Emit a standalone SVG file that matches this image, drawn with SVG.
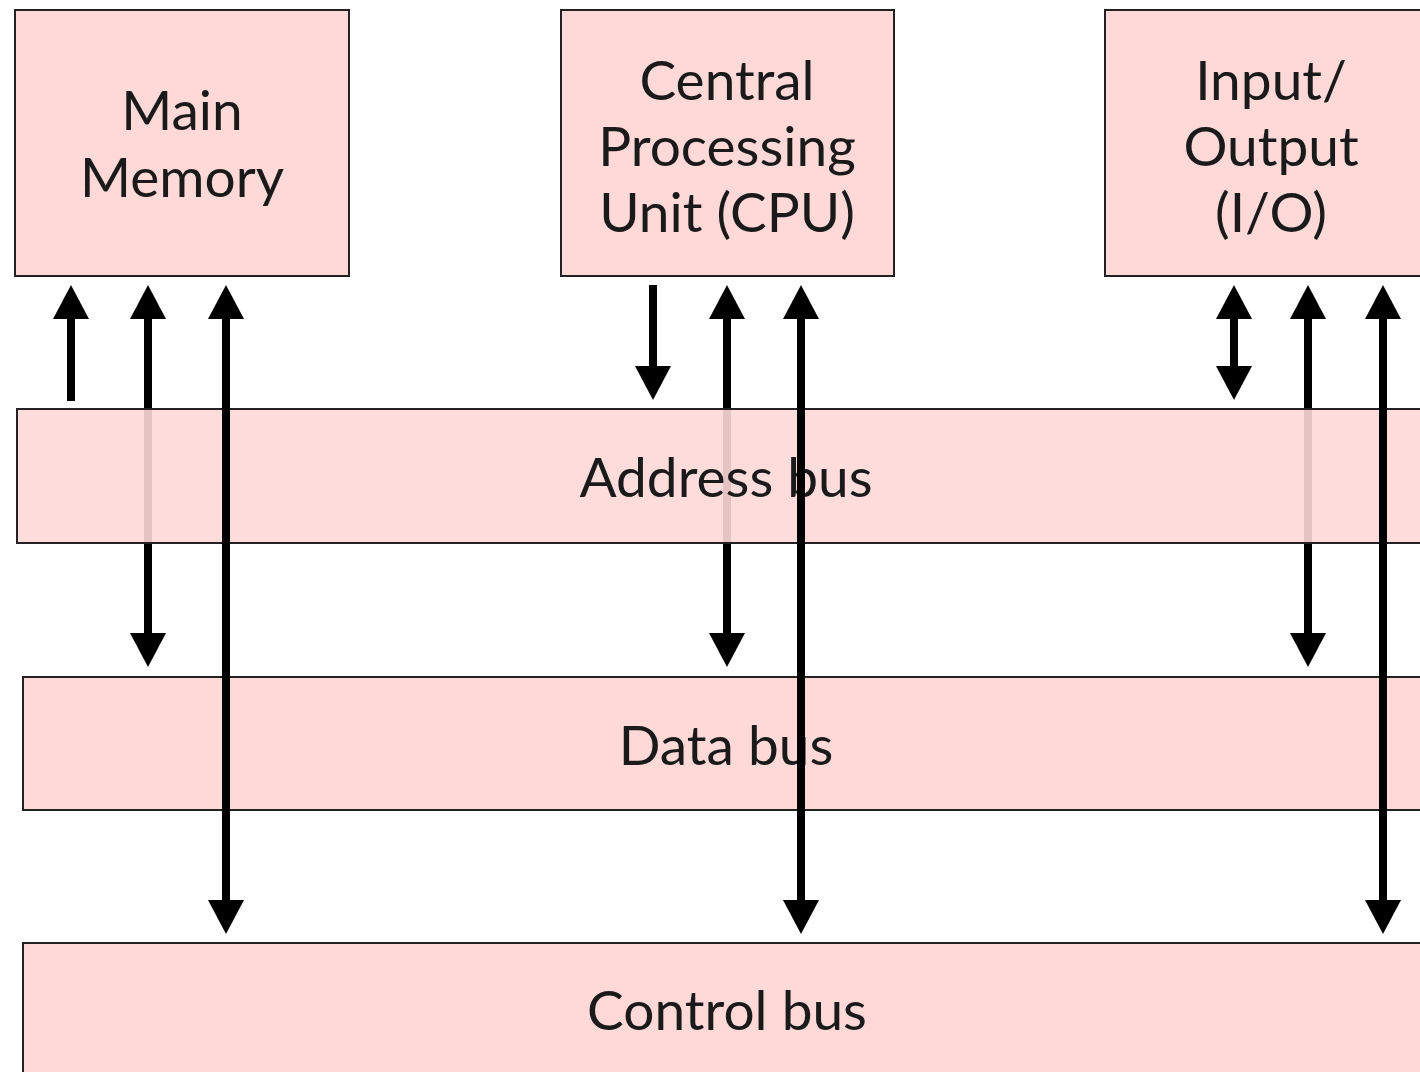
<svg xmlns="http://www.w3.org/2000/svg" width="1420" height="1072" viewBox="0 0 1420 1072">
  <style>
    .box { fill: #FFD8D8; stroke: #222; stroke-width: 2; }
    .bus { fill: #FFD8D8; stroke: #222; stroke-width: 2; }
    .faded { fill-opacity: 0.9; }
    .label { font-family: Lato, "Open Sans", "Liberation Sans", sans-serif; font-size: 55px; fill: #1a1a1a; text-anchor: middle; }
    .wire { stroke: #000; stroke-width: 8; fill: none; }
    .one { marker-end: url(#head); }
    .two { marker-start: url(#head); marker-end: url(#head); }
  </style>
  <defs>
    <marker id="head" markerUnits="userSpaceOnUse" markerWidth="34" markerHeight="36" viewBox="0 0 34 36" refX="0" refY="18" orient="auto-start-reverse">
      <path d="M0,0 L34,18 L0,36 z" fill="#000"/>
    </marker>
  </defs>

  <!-- data bus lines pass beneath the address bus -->
  <g id="connectors-data">
    <line class="wire two" x1="148" y1="319" x2="148" y2="633"/>
    <line class="wire two" x1="727" y1="319" x2="727" y2="633"/>
    <line class="wire two" x1="1308" y1="319" x2="1308" y2="633"/>
  </g>

  <g id="main-memory">
    <rect class="box" x="15" y="10" width="334" height="266"/>
    <text class="label" x="182" y="130">Main</text>
    <text class="label" x="182" y="197">Memory</text>
  </g>

  <g id="cpu">
    <rect class="box" x="561" y="10" width="333" height="266"/>
    <text class="label" x="727" y="100">Central</text>
    <text class="label" x="727" y="166">Processing</text>
    <text class="label" x="727" y="232">Unit (CPU)</text>
  </g>

  <g id="io">
    <rect class="box" x="1105" y="10" width="340" height="266"/>
    <text class="label" x="1271" y="100">Input/</text>
    <text class="label" x="1271" y="166">Output</text>
    <text class="label" x="1271" y="232">(I/O)</text>
  </g>

  <g id="address-bus">
    <rect class="bus faded" x="17" y="409" width="1430" height="134"/>
    <text class="label" x="726" y="497">Address bus</text>
  </g>

  <g id="data-bus">
    <rect class="bus" x="23" y="677" width="1430" height="133"/>
    <text class="label" x="726" y="765">Data bus</text>
  </g>

  <g id="control-bus">
    <rect class="bus" x="23" y="943" width="1430" height="140"/>
    <text class="label" x="727" y="1030">Control bus</text>
  </g>

  <!-- address and control lines -->
  <g id="connectors">
    <line class="wire one" x1="71" y1="401" x2="71" y2="319"/>
    <line class="wire one" x1="653" y1="285" x2="653" y2="366"/>
    <line class="wire two" x1="1234" y1="319" x2="1234" y2="366"/>
    <line class="wire two" x1="226" y1="319" x2="226" y2="900"/>
    <line class="wire two" x1="801" y1="319" x2="801" y2="900"/>
    <line class="wire two" x1="1383" y1="319" x2="1383" y2="900"/>
  </g>
</svg>
